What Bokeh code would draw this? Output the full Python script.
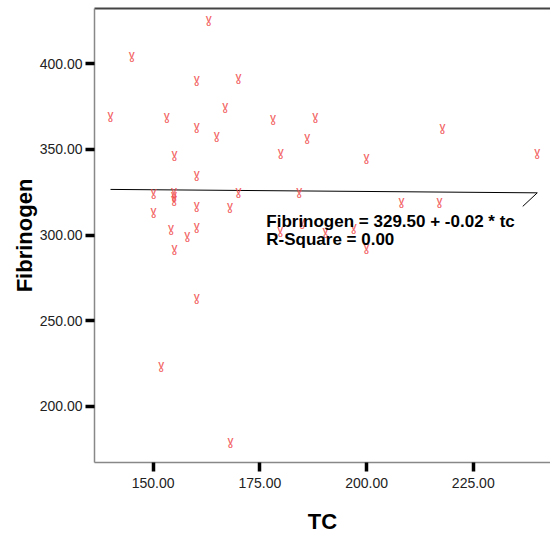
from bokeh.plotting import figure
from bokeh.models import Range1d, FixedTicker, LinearAxis, Label, NumeralTickFormatter, ColumnDataSource
from bokeh.core.properties import value
from bokeh.embed import file_html
from bokeh.resources import INLINE

# ---- data ----
tc = [163.0, 145.0, 160.2, 170.0, 166.9, 140.0, 153.2, 178.1, 160.2, 164.9,
      155.0, 179.9, 160.2, 188.0, 186.1, 217.8, 200.0, 240.0, 184.2, 208.2,
      217.1, 184.9, 197.0, 179.8, 190.4, 200.0, 150.1, 154.9, 154.9, 154.9,
      170.0, 160.2, 168.0, 150.1, 154.2, 160.2, 158.0, 155.0, 160.2, 151.9,
      168.1]
fibrinogen = [425.3, 404.3, 390.3, 391.6, 374.7, 369.2, 368.8, 367.5, 363.0, 357.7,
              346.5, 347.5, 334.6, 368.8, 356.6, 362.4, 344.9, 347.5, 324.7, 318.8,
              318.8, 306.6, 304.1, 302.1, 301.7, 292.5, 324.6, 325.1, 322.6, 320.0,
              325.1, 316.9, 316.3, 313.4, 303.5, 304.2, 299.3, 291.5, 262.9, 223.5,
              179.2]
intercept = 329.50
slope = -0.02
r_square = 0.00
x_ticks = [150, 175, 200, 225]
y_ticks = [200, 250, 300, 350, 400]

FONT = "Liberation Sans"

p = figure(width=550, height=539, output_backend="svg", toolbar_location=None,
           x_range=Range1d(136.25, 243.1), y_range=Range1d(167.3, 432.3),
           min_border_left=94, min_border_bottom=77, min_border_top=8, min_border_right=0,
           x_axis_label="TC", y_axis_label="Fibrinogen")
p.outline_line_color = None
p.grid.visible = False
p.background_fill_color = "white"
p.border_fill_color = "white"

for ax in (p.xaxis[0], p.yaxis[0]):
    ax.axis_line_color = "#888888"
    ax.axis_line_width = 1.5
    ax.major_tick_line_color = "black"
    ax.major_tick_line_width = 3.5
    ax.major_tick_in = 0
    ax.major_tick_out = 9
    ax.minor_tick_line_color = None
    ax.major_label_text_font = FONT
    ax.major_label_text_font_size = "14px"
    ax.major_label_text_color = "#222222"
    ax.axis_label_text_font = FONT
    ax.axis_label_text_font_size = "22px"
    ax.axis_label_text_font_style = "bold"
    ax.axis_label_text_color = "black"
    ax.formatter = NumeralTickFormatter(format="0.00")

p.xaxis[0].ticker = FixedTicker(ticks=x_ticks)
p.yaxis[0].ticker = FixedTicker(ticks=y_ticks)
p.xaxis[0].major_label_standoff = 6
p.xaxis[0].axis_label_standoff = 18
p.yaxis[0].major_label_standoff = 3
p.yaxis[0].axis_label_standoff = 0

# top border
top = LinearAxis(ticker=FixedTicker(ticks=[]), major_label_text_font_size="0px",
                 major_tick_out=0, major_tick_in=0, minor_tick_out=0, minor_tick_in=0,
                 axis_line_color="#444444", axis_line_width=2)
p.add_layout(top, "above")

# regression line
x0, x1 = min(tc), max(tc)
p.line([x0, x1], [intercept + slope * x0, intercept + slope * x1],
       line_color="black", line_width=1)
# leader to label
p.line([x1, x1 - 3.4], [intercept + slope * x1, intercept + slope * x1 - 7.9],
       line_color="black", line_width=1)

# markers: a small "V" over a small loop, like the reference's hand glyph
src = ColumnDataSource(dict(x=tc, y=fibrinogen, v=["V"] * len(tc), o=["o"] * len(tc)))
p.text(x="x", y="y", text="v", source=src, text_font=value(FONT),
       text_font_size="9px", text_font_style="bold", text_color="#f04848", text_alpha=0.85,
       text_align="center", text_baseline="alphabetic", y_offset=-1.5)
p.text(x="x", y="y", text="o", source=src, text_font=value(FONT),
       text_font_size="8px", text_font_style="bold", text_color="#f04848", text_alpha=0.85,
       text_align="center", text_baseline="alphabetic", y_offset=3)

eq = "Fibrinogen = %.2f + %.2f * tc" % (intercept, slope)
p.add_layout(Label(x=176.5, y=308.1, text=eq, text_font=FONT, text_font_size="17px",
                   text_font_style="bold", text_color="black", text_baseline="alphabetic"))
p.add_layout(Label(x=176.5, y=297.3, text="R-Square = %.2f" % r_square, text_font=FONT,
                   text_font_size="17px", text_font_style="bold", text_color="black",
                   text_baseline="alphabetic"))

open("out.html", "w").write(file_html(p, INLINE))
